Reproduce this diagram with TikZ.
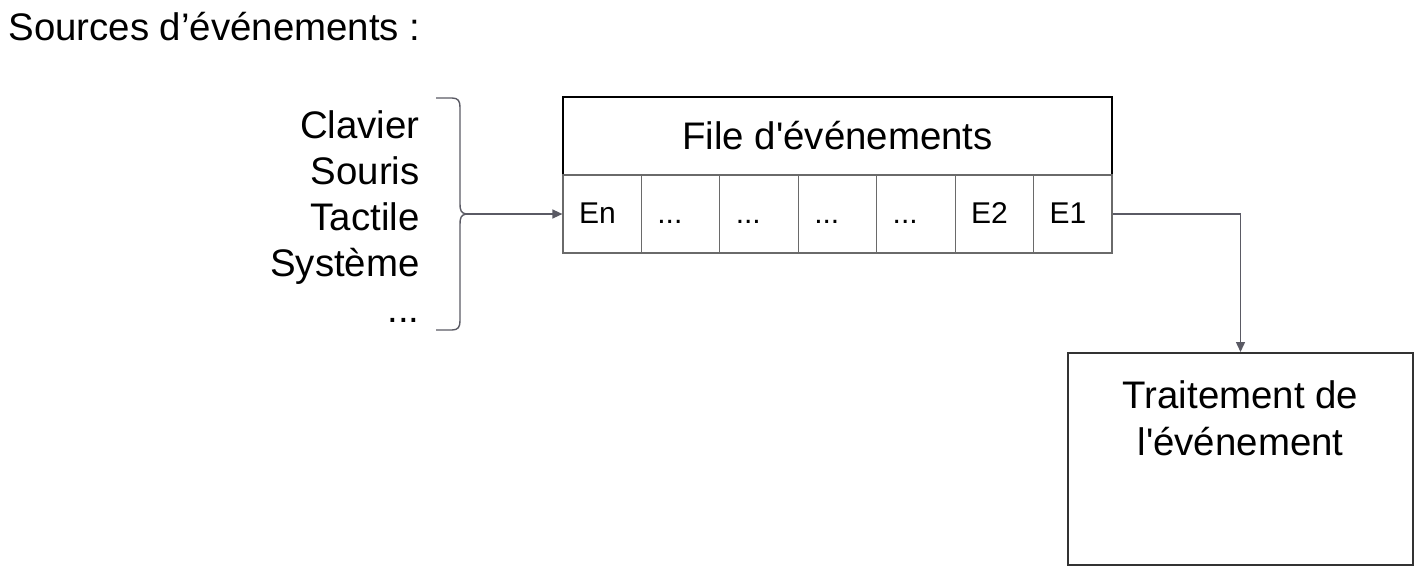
\documentclass[tikz,border=0pt]{standalone}
\usepackage{fontspec}
\setmainfont{Liberation Sans}
\usetikzlibrary{arrows.meta}
\definecolor{conngray}{HTML}{5A5A64}
\definecolor{cellgray}{HTML}{6A6A6A}
\definecolor{boxdark}{HTML}{333333}
\begin{document}
\begin{tikzpicture}[x=0.5pt,y=-0.5pt,
  bigfont/.style={font=\fontsize{19.2}{23}\selectfont},
  cellbox/.style={draw=cellgray, line width=0.6pt, minimum height=39pt, inner ysep=0pt,
    inner xsep=8pt, text width=23.2pt, align=left, text height=0.716em+2.6pt, text depth=0pt,
    font=\fontsize{15}{18}\selectfont},
  conn/.style={draw=conngray, line width=0.7pt, -{Triangle[length=5pt,width=4.5pt]}}]
\useasboundingbox (0,0) rectangle (1420,568);

\node[bigfont, anchor=base west, inner sep=0] (title) at (8,40) {Sources d’événements :};

\node[bigfont, anchor=north east, align=right, inner sep=0] (sources) at (420,110.5)
  {Clavier\\Souris\\Tactile\\Système\\...};

% brace
\draw[conngray, line width=0.7pt]
  (436,98) -- (452,98) .. controls (458,98) and (460,101) .. (460,107)
  -- (460,204) .. controls (460,210) and (461,213) .. (466,214)
  .. controls (461,215) and (460,218) .. (460,224)
  -- (460,321) .. controls (460,327) and (458,330) .. (452,330) -- (436,330);
\coordinate (bracetip) at (466,214);

% queue
\node[draw=black, line width=0.7pt, minimum width=274.5pt, minimum height=39pt,
  bigfont, inner sep=0] (queue) at (837.5,136) {File d\textquotesingle événements};
\node[cellbox] (en) at (602.2,214) {En};
\node[cellbox] (c2) at (680.6,214) {...};
\node[cellbox] (c3) at (759.0,214) {...};
\node[cellbox] (c4) at (837.5,214) {...};
\node[cellbox] (c5) at (915.9,214) {...};
\node[cellbox] (e2) at (994.3,214) {E2};
\node[cellbox] (e1) at (1072.7,214) {E1};

% processing box
\node[draw=boxdark, line width=1pt, minimum width=172.5pt, minimum height=106pt,
  inner sep=0] (trait) at (1240.5,459) {};
\node[anchor=north, align=center, inner sep=0, font=\fontsize{19.2}{23.5}\selectfont]
  (traittxt) at (1240.5,380.5) {Traitement de\\l\textquotesingle événement};

\draw[conn] (bracetip) -- (en.west);
\draw[conn] (e1.east) -| (trait.north);
\end{tikzpicture}
\end{document}
